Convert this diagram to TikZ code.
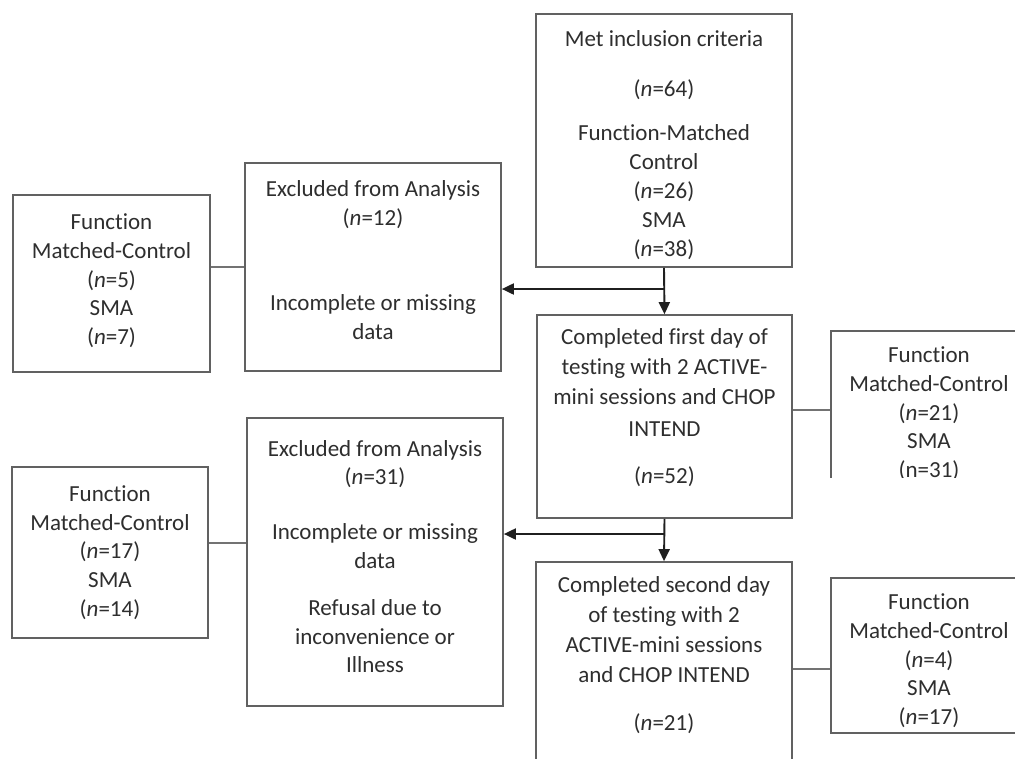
\documentclass[tikz,border=0pt]{standalone}
\usepackage{fontspec}
\setmainfont{Carlito}[Ligatures=NoCommon]
\usetikzlibrary{arrows.meta}
\newcommand\dpt[1]{\rule[-#1pt]{0pt}{#1pt}}
\newcommand\hgt[1]{\rule{0pt}{#1pt}}
\tikzset{
  box/.style={draw=black!62, line width=1.7pt, inner sep=0pt, align=center,
    text=black!82, font=\fontsize{23}{28.8}\selectfont},
  flow/.style={draw=black!88, line width=1.9pt, -{Triangle[length=12pt,width=11pt]}},
  side/.style={draw=black!55, line width=1.2pt}
}
\begin{document}
\begin{tikzpicture}[x=1pt,y=-1pt]
\useasboundingbox (0,0) rectangle (1015,758);
\clip (0,0) rectangle (1015,758);
\fill[white] (0,0) rectangle (1015,758);

% main column
\node[box, minimum width=256pt, minimum height=253pt] (top) at (664,140.5)
 {\hgt{24.5}Met inclusion criteria\\[21pt](\textit{n}=64)\\[16pt]Function-Matched\\Control\\(\textit{n}=26)\\SMA\\(\textit{n}=38)};
\node[box, minimum width=255pt, minimum height=203pt] (first) at (664.5,416.5)
 {Completed first day of\\[1.2pt]testing with 2 ACTIVE-\\[1.2pt]mini sessions and CHOP\\[3pt]INTEND\\[18pt](\textit{n}=52)\dpt{20.5}};
\node[box, minimum width=256pt, minimum height=212pt] (second) at (664,668)
 {Completed second day\\[1.2pt]of testing with 2\\[1.2pt]ACTIVE-mini sessions\\[1.2pt]and CHOP INTEND\\[19pt](\textit{n}=21)\dpt{29.5}};

% excluded boxes
\node[box, minimum width=256pt, minimum height=208pt] (ex1) at (373,267)
 {Excluded from Analysis\\(\textit{n}=12)\\[56pt]Incomplete or missing\\data\dpt{14}};
\node[box, minimum width=256pt, minimum height=288pt] (ex2) at (375,562)
 {Excluded from Analysis\\(\textit{n}=31)\\[26pt]Incomplete or missing\\data\\[18pt]Refusal due to\\inconvenience or\\Illness\dpt{11}};

% left boxes
\node[box, minimum width=197pt, minimum height=177pt] (lb1) at (111.5,283.5)
 {Function\\Matched-Control\\(\textit{n}=5)\\SMA\\(\textit{n}=7)\dpt{8.5}};
\node[box, minimum width=196pt, minimum height=171pt] (lb2) at (110,552.5)
 {Function\\Matched-Control\\(\textit{n}=17)\\SMA\\(\textit{n}=14)};

% right boxes
\begin{scope}
\clip (796,320) rectangle (1015,477);
\node[box, minimum width=196pt, minimum height=176pt] (rb1) at (929,419)
 {Function\\Matched-Control\\(\textit{n}=21)\\SMA\\(n=31)\dpt{13.5}};
\end{scope}
\node[box, minimum width=196pt, minimum height=155pt] (rb2) at (929,655.5)
 {\hgt{26.5}Function\\Matched-Control\\(\textit{n}=4)\\SMA\\(\textit{n}=17)};

% flow arrows
\coordinate (j1) at (664,289);
\coordinate (j2) at (664,534);
\draw[flow] (top.south) -- (first.north);
\draw[flow] (j1) -- (j1 -| ex1.east);
\draw[flow] (first.south) -- (second.north);
\draw[flow] (j2) -- (j2 -| ex2.east);

% side connectors
\draw[side] (lb1.east |- ex1.west) -- (ex1.west);
\coordinate (c2) at (0,543);
\draw[side] (c2 -| lb2.east) -- (c2 -| ex2.west);
\coordinate (c3) at (0,410);
\draw[side] (c3 -| first.east) -- (c3 -| rb1.west);
\coordinate (c4) at (0,669);
\draw[side] (c4 -| second.east) -- (c4 -| rb2.west);
\end{tikzpicture}
\end{document}
